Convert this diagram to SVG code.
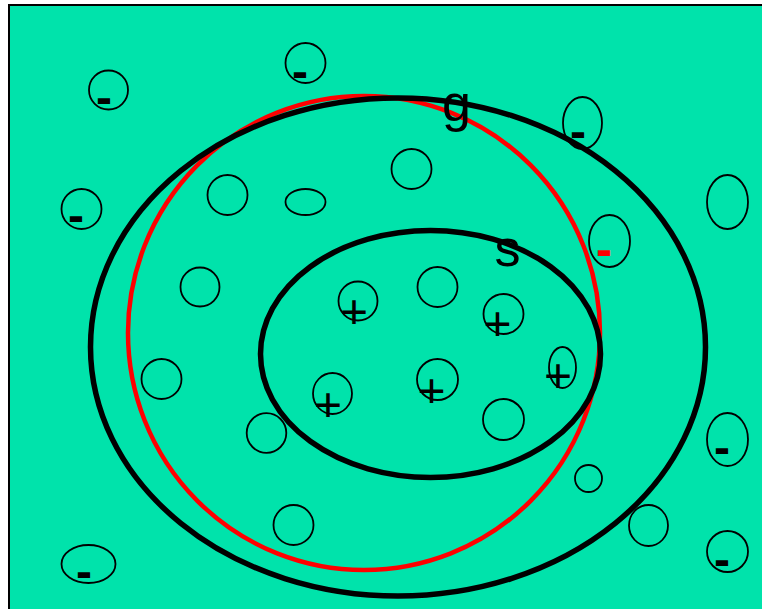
<svg xmlns="http://www.w3.org/2000/svg" width="762" height="609" viewBox="0 0 762 609">
<style>
.bg{fill:#00E3AB;stroke:#000;stroke-width:2}
.big{fill:none;stroke:#000;stroke-width:5.5}
.red{fill:none;stroke:#FF0000;stroke-width:4.5}
.pt{fill:none;stroke:#000;stroke-width:1.8}
.sign{font-family:"Liberation Sans",Arial,sans-serif;font-size:48px;fill:#000;text-anchor:middle}
.minus{font-weight:bold}
.lbl{font-family:"Liberation Sans",Arial,sans-serif;font-size:52px;fill:#000;text-anchor:middle}
</style>
<rect class="bg" x="9" y="5" width="760" height="610"/>
<g id="hypothesis-g-red"><ellipse class="red" cx="364" cy="333" rx="236" ry="237"/></g>
<g id="points">
<g id="p1"><circle class="pt" cx="108.5" cy="90" r="19.5"/><text class="sign minus" x="104" y="114">-</text></g>
<g id="p2"><circle class="pt" cx="305.5" cy="63" r="20"/><text class="sign minus" x="300" y="88">-</text></g>
<g id="p3"><circle class="pt" cx="81.5" cy="209" r="20"/><text class="sign minus" x="76" y="232">-</text></g>
<g id="p4"><circle class="pt" cx="227.5" cy="195" r="20"/></g>
<g id="p5"><ellipse class="pt" cx="305.5" cy="202" rx="20" ry="13"/></g>
<g id="p6"><circle class="pt" cx="411.5" cy="169" r="20"/></g>
<g id="p7"><ellipse class="pt" cx="582.5" cy="123" rx="19.5" ry="26"/><text class="sign minus" x="578" y="148">-</text></g>
<g id="p8"><ellipse class="pt" cx="727.5" cy="202" rx="20.5" ry="27"/></g>
<g id="p9"><ellipse class="pt" cx="609.5" cy="241" rx="20.5" ry="26"/><text class="sign minus" x="604" y="266" style="fill:#FF0000">-</text></g>
<g id="p10"><circle class="pt" cx="200" cy="287" r="19.5"/></g>
<g id="p11"><circle class="pt" cx="437.5" cy="287" r="20"/></g>
<g id="p12"><circle class="pt" cx="358" cy="301" r="19.5"/><text class="sign" x="354" y="328">+</text></g>
<g id="p13"><circle class="pt" cx="503.5" cy="314" r="20"/><text class="sign" x="497.5" y="339.5">+</text></g>
<g id="p14"><circle class="pt" cx="161.5" cy="379" r="20"/></g>
<g id="p15"><ellipse class="pt" cx="332.5" cy="393.5" rx="19.5" ry="20.5"/><text class="sign" x="328" y="420.5">+</text></g>
<g id="p16"><circle class="pt" cx="437.5" cy="379.5" r="20.5"/><text class="sign" x="431.5" y="406.5">+</text></g>
<g id="p17"><ellipse class="pt" cx="562.5" cy="367.5" rx="13.5" ry="20.5"/><text class="sign" x="558" y="392">+</text></g>
<g id="p18"><circle class="pt" cx="266.5" cy="433" r="19.8"/></g>
<g id="p19"><circle class="pt" cx="503.5" cy="419.5" r="20.5"/></g>
<g id="p20"><circle class="pt" cx="588.5" cy="478.5" r="13.5"/></g>
<g id="p21"><ellipse class="pt" cx="727.5" cy="439.5" rx="20.5" ry="26.5"/><text class="sign minus" x="722" y="464">-</text></g>
<g id="p22"><circle class="pt" cx="293.5" cy="525" r="20"/></g>
<g id="p23"><ellipse class="pt" cx="648.5" cy="525.5" rx="19.5" ry="20.5"/></g>
<g id="p24"><circle class="pt" cx="727.5" cy="551.5" r="20.5"/><text class="sign minus" x="722" y="576">-</text></g>
<g id="p25"><ellipse class="pt" cx="88.5" cy="564" rx="27" ry="19"/><text class="sign minus" x="84" y="588">-</text></g>
</g>
<g id="hypothesis-g"><ellipse class="big" cx="398" cy="347" rx="307.5" ry="249"/></g>
<g id="hypothesis-s"><ellipse class="big" cx="430.5" cy="354" rx="170" ry="123.5"/></g>
<g id="labels">
<text class="lbl" x="456.5" y="121">g</text>
<text class="lbl" x="507.5" y="266">s</text>
</g>
</svg>
